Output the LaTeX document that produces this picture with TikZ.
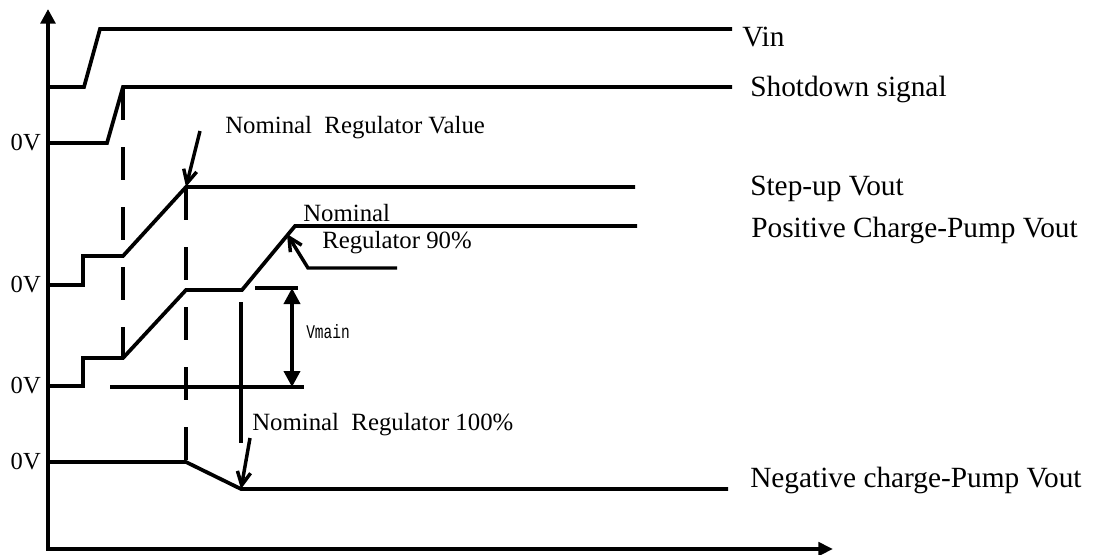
\documentclass[tikz,border=0pt]{standalone}
\usepackage{fontspec}
\setmainfont{Liberation Serif}
\setmonofont{Liberation Mono}
\usetikzlibrary{arrows.meta}
\tikzset{
  sig/.style={line width=2.8pt, line join=miter},
  guide/.style={line width=2.6pt, dash pattern=on 25pt off 20pt},
  ptr/.style={line width=2.6pt, -{Straight Barb[length=10pt,width=10pt,line width=2.6pt]}},
  axis/.style={line width=3.4pt, {Triangle[length=11pt,width=11pt]}-{Triangle[length=11pt,width=10pt]}},
  span/.style={line width=2.8pt, {Triangle[length=12pt,width=12pt]}-{Triangle[length=12pt,width=12pt]}},
  siglabel/.style={font=\fontsize{22}{24}\selectfont, anchor=west, inner sep=0pt},
  note/.style={font=\fontsize{18.6}{20}\selectfont, anchor=west, inner sep=0pt},
  zero/.style={font=\fontsize{18.4}{20}\selectfont, anchor=east, inner sep=0pt},
}
\begin{document}
\begin{tikzpicture}[x=0.75pt, y=-0.75pt]
    \useasboundingbox (0,0) rectangle (1094,554);
    % axes
    \coordinate (O) at (48,549);
    \coordinate (Ytop) at (48,9);
    \coordinate (Xend) at (833,549);
    \draw[axis] (Ytop) -- (O) -- (Xend);
    % zero levels
    \node[zero] (Z0) at (41,143) {0V};
    \node[zero] (Z1) at (41,285) {0V};
    \node[zero] (Z2) at (41,386) {0V};
    \node[zero] (Z3) at (41,462) {0V};
    % traces
    \draw[sig] (48,87) -- (84,87) -- (100,29) -- (732,29);
    \draw[sig] (48,143) -- (107,143) -- (123,87) -- (732,87);
    \draw[sig] (48,285) -- (83,285) -- (83,256) -- (123,256) -- (186,187) -- (635,187);
    \draw[sig] (48,386) -- (83,386) -- (83,358) -- (123,358) -- (186,290) -- (242,290)
      -- (295,226) -- (637,226);
    \draw[sig] (48,462) -- (186,462) -- (241,489) -- (728,489);
    % timing guides
    \draw[guide] (123,87) -- (123,358);
    \draw[guide] (186,187) -- (186,462);
    \draw[sig] (241,302) -- (241,443);
    % trace names
    \node[siglabel] (L_vin) at (742,37) {Vin};
    \node[siglabel] (L_shd) at (750,89) {Shotdown signal};
    \node[siglabel] (L_stp) at (750,189) {Step-up Vout};
    \node[siglabel] (L_pos) at (751,230) {Positive Charge-Pump Vout};
    \node[siglabel] (L_neg) at (750,480) {Negative charge-Pump Vout};
    % regulation notes
    \node[note] (N_val) at (225,128) {Nominal~~Regulator Value};
    \coordinate (P_val) at (186,187);
    \draw[ptr] (200,131) -- (P_val);
    \node[note] (N_90a) at (303,213) {Nominal};
    \node[note] (N_90b) at (322,243) {Regulator 90\%};
    \coordinate (P_90) at (287,234);
    \draw[ptr] (397,268) -- (308,268) -- (P_90);
    \node[note] (N_100) at (252,425) {Nominal~~Regulator 100\%};
    \coordinate (P_100) at (241,489);
    \draw[ptr] (250,438) -- (P_100);
    % Vmain span
    \coordinate (V_top) at (292,288);
    \coordinate (V_bot) at (292,387);
    \draw[sig] (255,288) -- (298,288);
    \draw[sig] (110,387) -- (304,387);
    \draw[span] (V_top) -- (V_bot);
    \node[anchor=west, inner sep=0pt] (N_vm) at (306,332)
      {\scalebox{0.75}[1]{\ttfamily\fontsize{14.5}{15}\selectfont Vmain}};
\end{tikzpicture}
\end{document}
